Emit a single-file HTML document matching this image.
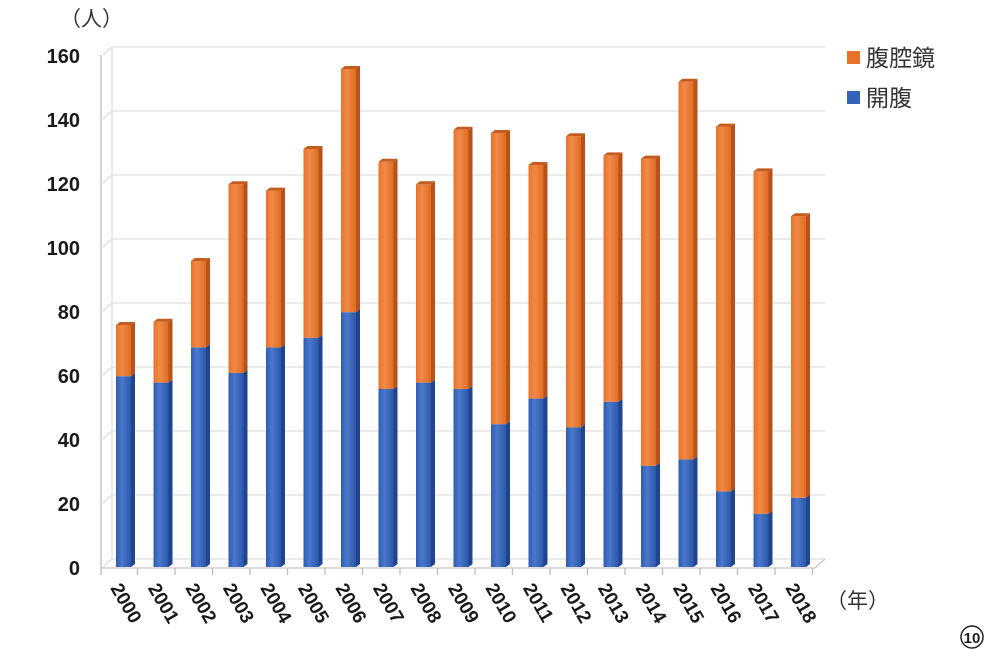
<!DOCTYPE html>
<html><head><meta charset="utf-8"><style>
body{margin:0;background:#fff;}
svg{display:block;font-family:"Liberation Sans","Noto Sans CJK JP",sans-serif;}
</style></head><body>
<svg width="990" height="654" viewBox="0 0 990 654">
<defs>
<linearGradient id="bl" x1="0" x2="1"><stop offset="0" stop-color="#2f5cb0"/><stop offset="0.4" stop-color="#4a78cc"/><stop offset="1" stop-color="#2c58a8"/></linearGradient>
<linearGradient id="or" x1="0" x2="1"><stop offset="0" stop-color="#e8722a"/><stop offset="0.4" stop-color="#f08a48"/><stop offset="1" stop-color="#e06c22"/></linearGradient>
</defs>
<g id="grid" stroke="#e2dede" stroke-width="1.3" fill="none"></g>
<g id="bars"></g>
<g id="lab" font-size="20" font-weight="bold" fill="#1a1a1a"></g>
<text x="60" y="26" font-size="21" fill="#333">（人）</text>
<text x="826" y="608" font-size="21" fill="#333">（年）</text>
<rect x="847" y="51" width="13" height="13" fill="#e8722a"/>
<text x="866" y="66" font-size="23" fill="#333">腹腔鏡</text>
<rect x="847" y="91" width="13" height="13" fill="#3264b8"/>
<text x="866" y="106" font-size="23" fill="#333">開腹</text>
<circle cx="972" cy="637" r="11" fill="none" stroke="#222" stroke-width="1.5"/>
<text x="972" y="643" font-size="15" font-weight="bold" text-anchor="middle" fill="#222">10</text>
</svg>
<script>
const ns="http://www.w3.org/2000/svg";
function el(p,t,a,txt){const e=document.createElementNS(ns,t);for(const k in a)e.setAttribute(k,a[k]);if(txt!==undefined)e.textContent=txt;p.appendChild(e);return e;}
const g=document.getElementById('grid'),b=document.getElementById('bars'),l=document.getElementById('lab');
const Y=v=>567-v*3.2;
for(let v=0;v<=160;v+=20){
 const y=Y(v);
 el(g,'polyline',{points:`103,${y} 112,${y-8} 825,${y-8}`});
 el(l,'text',{x:80,y:Y(v)+8,'text-anchor':'end'},v);
}
el(g,'line',{x1:112,y1:Y(160)-8,x2:112,y2:Y(0)-8});
el(g,'polyline',{points:`101,575 101,${Y(160)} `,stroke:'#bbb'});
el(g,'polyline',{points:`101,568 815,568 825,559`,stroke:'#c8c4c4'});
const d=[[75,59],[76,57],[95,68],[119,60],[117,68],[130,71],[155,79],[126,55],[119,57],[136,55],[135,44],[125,52],[134,43],[128,51],[127,31],[151,33],[137,23],[123,16],[109,21]];
d.forEach((r,i)=>{
 const x=116+i*37.5,w=15,s=4,yb=Y(0),yo=Y(r[1])-2,yt=Y(r[0])-2;
 el(b,'rect',{x:x,y:yo,width:w,height:yb-yo,fill:'url(#bl)'});
 el(b,'polygon',{points:`${x+w},${yo} ${x+w+s},${yo-3} ${x+w+s},${yb-3} ${x+w},${yb}`,fill:'#1f4590'});
 el(b,'rect',{x:x,y:yt,width:w,height:yo-yt,fill:'url(#or)'});
 el(b,'polygon',{points:`${x+w},${yt} ${x+w+s},${yt-3} ${x+w+s},${yo-3} ${x+w},${yo}`,fill:'#b8521a'});
 el(b,'polygon',{points:`${x},${yt} ${x+s},${yt-3} ${x+w+s},${yt-3} ${x+w},${yt}`,fill:'#c25c20'});
 el(g,'line',{x1:101+(i+1)*37.5-1,y1:568,x2:101+(i+1)*37.5-1,y2:575,stroke:'#bbb'});
 el(l,'text',{x:0,y:0,transform:`translate(${x-6},${588}) rotate(60)`,'font-size':19},2000+i);
});
</script>
</body></html>
